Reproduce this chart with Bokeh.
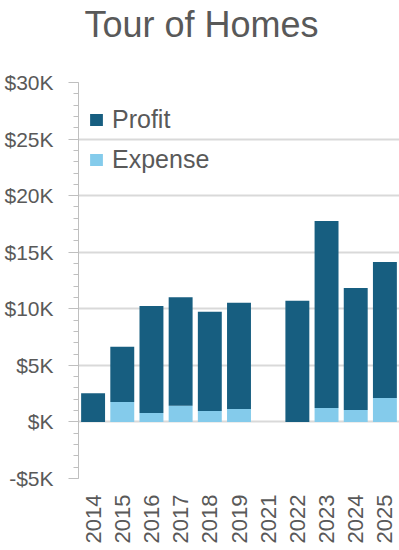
from bokeh.plotting import figure
from bokeh.models import (Range1d, FactorRange, SingleIntervalTicker, CustomJSTickFormatter,
                          Legend, LegendItem, ColumnDataSource, Title)
from bokeh.embed import file_html
from bokeh.resources import INLINE
import math

title_text = "Tour of Homes"
years = ["2014", "2015", "2016", "2017", "2018", "2019", "2021", "2022", "2023", "2024", "2025"]
expense = [0, 1770, 800, 1420, 970, 1150, 0, 0, 1240, 1060, 2120]
profit = [2540, 4870, 9440, 9610, 8760, 9380, 0, 10700, 16520, 10770, 12010]

DARK = "#175e80"
LIGHT = "#84cbeb"
TXT = "#595959"
GRID = "#d9d9d9"
AX = "#bfbfbf"
FONT = "Liberation Sans"

src = ColumnDataSource(dict(year=years, Expense=expense, Profit=profit))

p = figure(width=399, height=550, output_backend="svg", toolbar_location=None,
           x_range=FactorRange(*years, range_padding=0), y_range=Range1d(-5000, 30000),
           min_border_left=78, min_border_right=0, min_border_top=82, min_border_bottom=72)
p.outline_line_color = None
p.background_fill_color = "white"
p.border_fill_color = "white"

rs = p.vbar_stack(["Expense", "Profit"], x="year", width=0.82, source=src,
                  color=[LIGHT, DARK], line_color=None)

# spacer between plot area and title, then the title itself
p.add_layout(Title(text=" ", text_font_size="1px", standoff=33), "above")
p.add_layout(Title(text=title_text, text_font=FONT, text_font_size="36px",
                   text_font_style="normal", text_color=TXT, align="left", offset=6,
                   vertical_align="top", standoff=0), "above")

# y axis
yax = p.yaxis[0]
yax.ticker = SingleIntervalTicker(interval=5000, num_minor_ticks=5)
yax.formatter = CustomJSTickFormatter(code="""
var v = Math.abs(tick)/1000;
return (tick < 0 ? '-' : '') + '$' + (v === 0 ? '' : v) + 'K';
""")
yax.major_label_text_font = FONT
yax.major_label_text_font_size = "21px"
yax.major_label_text_color = TXT
yax.axis_line_color = AX
yax.major_tick_line_color = AX
yax.minor_tick_line_color = AX
yax.major_tick_in = 0
yax.major_tick_out = 10
yax.minor_tick_in = 0
yax.minor_tick_out = 5
yax.major_label_standoff = 15

xax = p.xaxis[0]
xax.major_label_orientation = math.pi / 2
xax.major_label_text_font = FONT
xax.major_label_text_font_size = "22px"
xax.major_label_text_color = TXT
xax.axis_line_color = None
xax.major_tick_line_color = None
xax.minor_tick_line_color = None
xax.major_label_standoff = 10

p.xgrid.grid_line_color = None
p.ygrid.grid_line_color = GRID
p.ygrid.grid_line_width = 2
p.ygrid.ticker = yax.ticker

legend = Legend(items=[LegendItem(label="Profit", renderers=[rs[1]]),
                       LegendItem(label="Expense", renderers=[rs[0]])],
                location=(10, 304), orientation="vertical")
legend.label_text_font = FONT
legend.label_text_font_size = "25px"
legend.label_text_color = TXT
legend.glyph_width = 16
legend.glyph_height = 15
legend.label_standoff = 8
legend.label_height = 20
legend.spacing = 11
legend.padding = 0
legend.margin = 0
legend.border_line_color = None
legend.background_fill_alpha = 0
p.add_layout(legend, "center")

open("out.html", "w").write(file_html(p, INLINE))
